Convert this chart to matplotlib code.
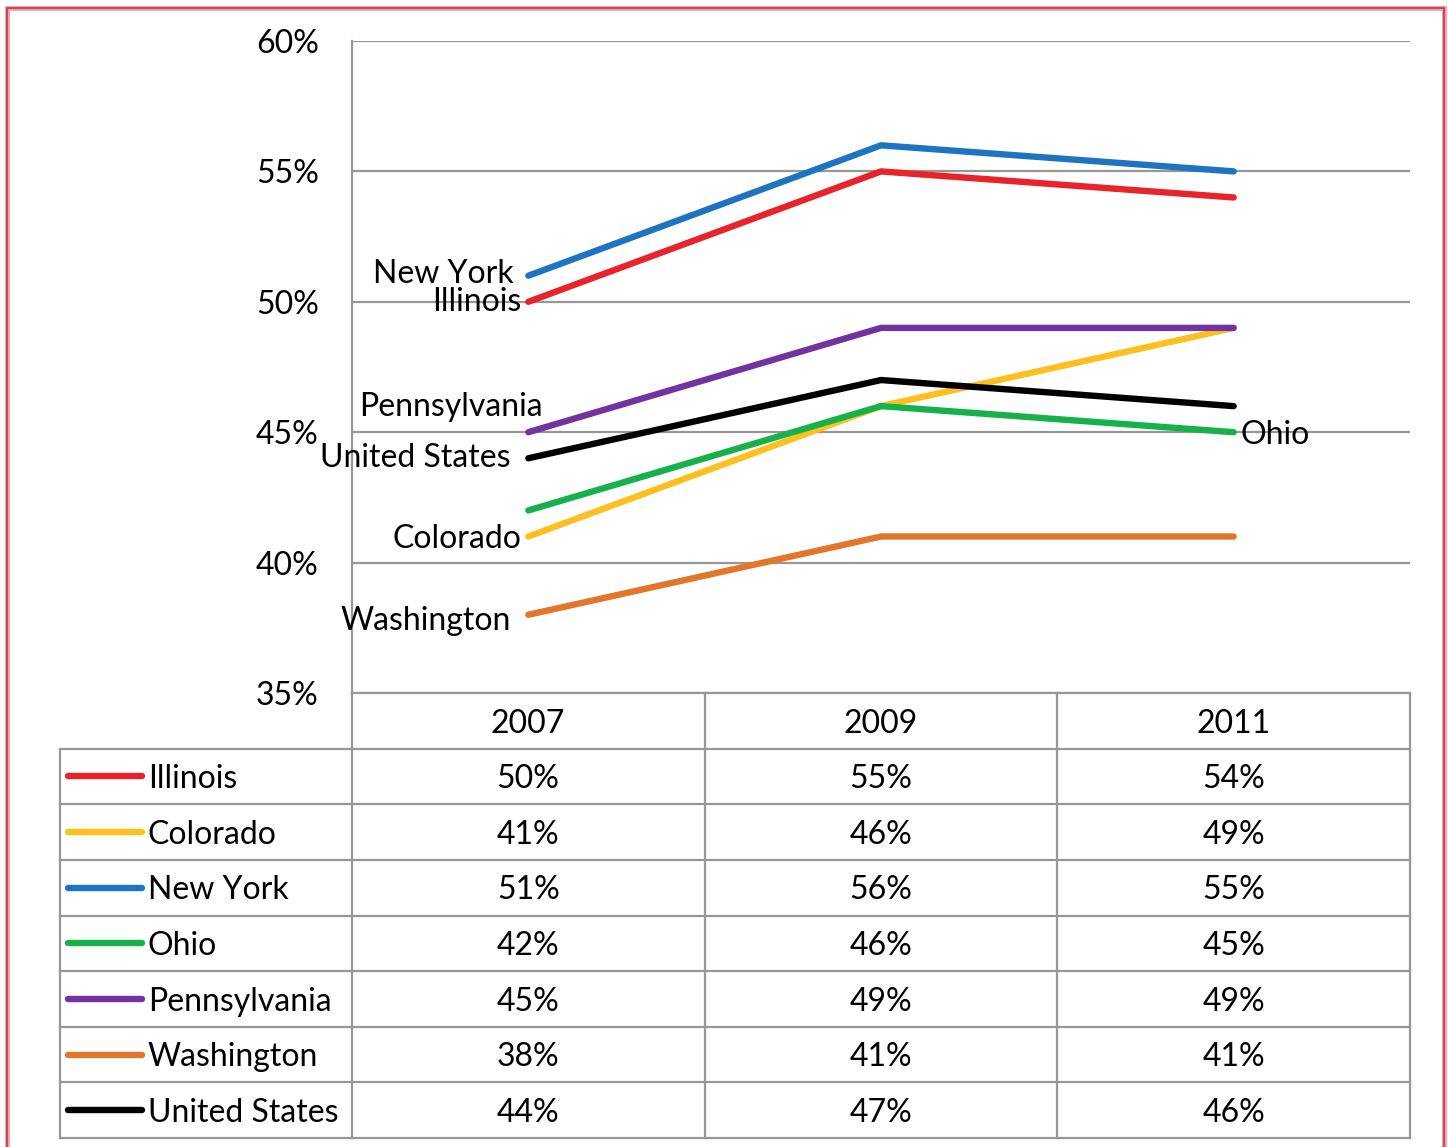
import matplotlib.pyplot as plt
from matplotlib.patches import Rectangle

plt.rcParams['font.family'] = ['Lato', 'DejaVu Sans']

years = ['2007', '2009', '2011']
states = ['Illinois', 'Colorado', 'New York', 'Ohio', 'Pennsylvania', 'Washington', 'United States']
illinois = [50, 55, 54]
colorado = [41, 46, 49]
new_york = [51, 56, 55]
ohio = [42, 46, 45]
pennsylvania = [45, 49, 49]
washington = [38, 41, 41]
united_states = [44, 47, 46]
series = [illinois, colorado, new_york, ohio, pennsylvania, washington, united_states]
colors = ['#e8232b', '#fdc01e', '#1f74c1', '#17b14b', '#7232a0', '#e2762a', '#000000']
yticks = [35, 40, 45, 50, 55, 60]

W, H = 1448, 1147
grid_c = '#979797'
fs = 23

fig = plt.figure(figsize=(W / 100, H / 100), dpi=100)

# chart area
ax = fig.add_axes([352 / W, 1 - 693 / H, 1058 / W, 652 / H])
x = list(range(len(years)))
for vals, c in zip(series, colors):
    ax.plot(x, vals, color=c, lw=4.6, solid_capstyle='round', zorder=3)
ax.set_xlim(-0.5, len(years) - 0.5)
ax.set_ylim(yticks[0], yticks[-1])
ax.set_yticks(yticks)
ax.set_yticklabels([f'{v}%' for v in yticks], fontsize=fs)
ax.tick_params(axis='y', length=0, pad=24)
ax.set_xticks([])
ax.grid(axis='y', color=grid_c, lw=1.6)
for s in ['top', 'right', 'bottom']:
    ax.spines[s].set_visible(False)
ax.spines['left'].set_color(grid_c)
ax.spines['left'].set_linewidth(1.6)

# labels at the ends of the lines
off = -0.04
ax.text(off, new_york[0] + 0.05, 'New York', ha='right', va='center', fontsize=fs)
ax.text(off + 0.02, illinois[0], 'Illinois', ha='right', va='center', fontsize=fs)
ax.text(-0.22, pennsylvania[0] + 0.95, 'Pennsylvania', ha='center', va='center', fontsize=fs)
ax.text(off - 0.01, united_states[0], 'United States', ha='right', va='center', fontsize=fs)
ax.text(off + 0.02, colorado[0] - 0.1, 'Colorado', ha='right', va='center', fontsize=fs)
ax.text(off - 0.01, washington[0] - 0.25, 'Washington', ha='right', va='center', fontsize=fs)
ax.text(2.02, ohio[2] - 0.1, 'Ohio', ha='left', va='center', fontsize=fs)

# data table below
tx0 = -0.5 - 292 / 353
tab = fig.add_axes([60 / W, 1 - 1138 / H, 1350 / W, 445 / H])
nrows = len(states) + 1
tab.set_xlim(tx0, len(years) - 0.5)
tab.set_ylim(nrows, 0)
tab.axis('off')
lw = 1.6
tab.plot([-0.5, len(years) - 0.5], [0, 0], color=grid_c, lw=lw, clip_on=False)
for r in range(1, nrows + 1):
    tab.plot([tx0, len(years) - 0.5], [r, r], color=grid_c, lw=lw, clip_on=False)
tab.plot([tx0, tx0], [1, nrows], color=grid_c, lw=lw, clip_on=False)
for c in range(len(years) + 1):
    tab.plot([c - 0.5, c - 0.5], [0, nrows], color=grid_c, lw=lw, clip_on=False)
ty = 0.55
for i, yr in enumerate(years):
    tab.text(i, ty, yr, ha='center', va='center', fontsize=fs)
for r, (name, vals, c) in enumerate(zip(states, series, colors), start=1):
    tab.plot([tx0 + 8 / 353, tx0 + 82 / 353], [r + 0.5, r + 0.5], color=c, lw=4.6,
             solid_capstyle='round')
    tab.text(tx0 + 88 / 353, r + ty, name, ha='left', va='center', fontsize=fs)
    for i, v in enumerate(vals):
        tab.text(i, r + ty, f'{v}%', ha='center', va='center', fontsize=fs)

# red frame
fig.patches.append(Rectangle((7 / W, -0.05), 1437 / W, 1 - 8 / H + 0.05, transform=fig.transFigure,
                             fill=False, edgecolor='#f0a0a8', lw=3.5))
fig.patches.append(Rectangle((7 / W, -0.05), 1437 / W, 1 - 8 / H + 0.05, transform=fig.transFigure,
                             fill=False, edgecolor='#c23846', lw=1.2))

fig.savefig('out.png', dpi=100)
